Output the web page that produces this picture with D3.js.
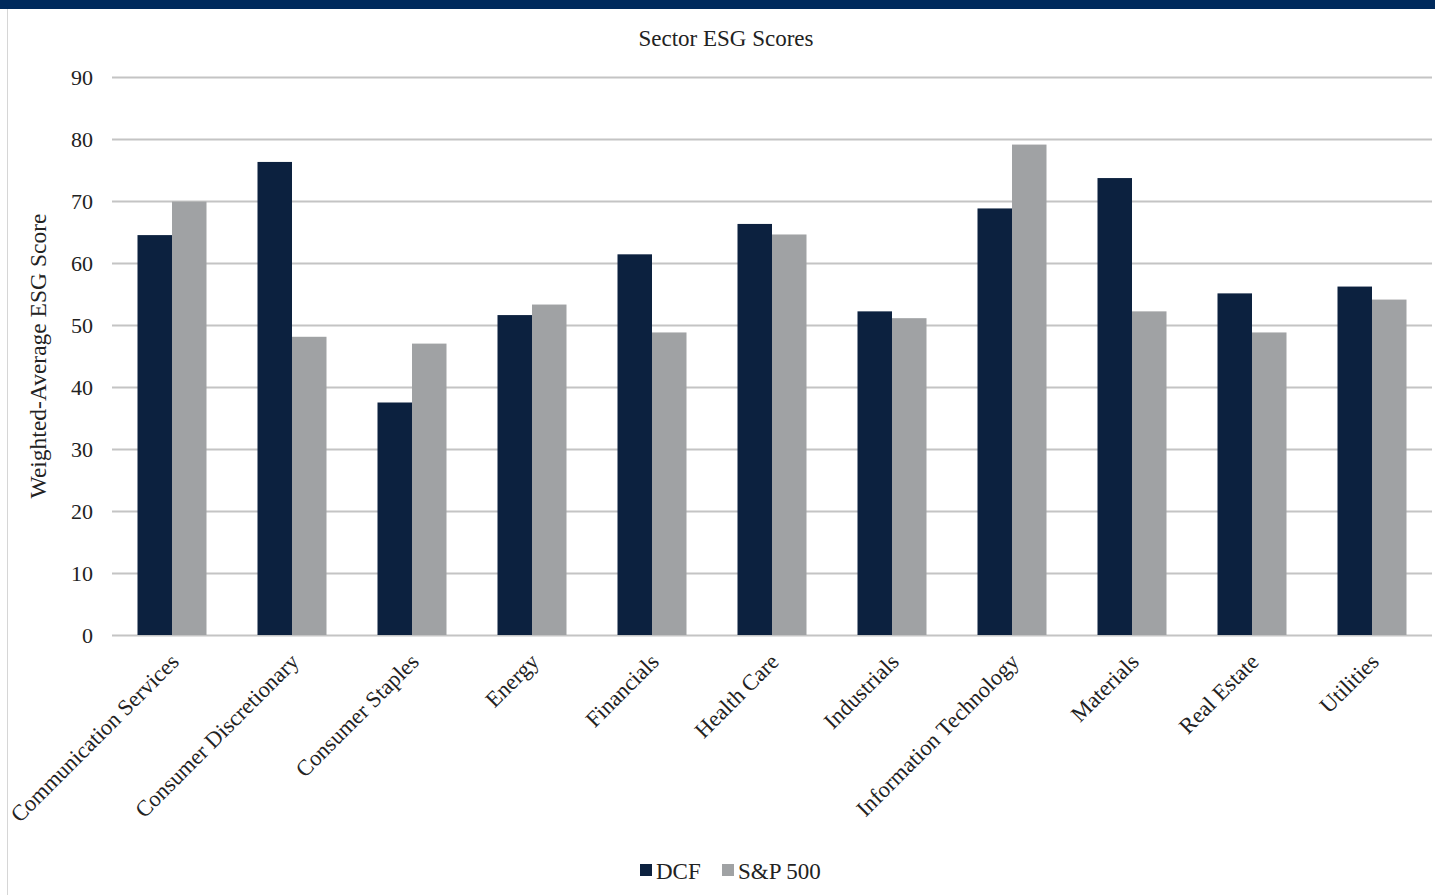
<!DOCTYPE html>
<html>
<head>
<meta charset="utf-8">
<script src="https://cdn.jsdelivr.net/npm/d3@7"></script>
<style>
  body { margin: 0; background: #fff; }
  text { font-family: "Liberation Serif", "DejaVu Serif", serif; fill: #222; }
</style>
</head>
<body>
<div id="drawing"></div>
<script>
const width = 1435;
const height = 895;

// data
const sectors = ["Communication Services", "Consumer Discretionary", "Consumer Staples", "Energy",
  "Financials", "Health Care", "Industrials", "Information Technology", "Materials", "Real Estate", "Utilities"];
const dcf = [64.5, 76.3, 37.5, 51.6, 61.4, 66.3, 52.2, 68.8, 73.7, 55.1, 56.2];
const sp500 = [69.9, 48.1, 47.0, 53.3, 48.8, 64.6, 51.1, 79.1, 52.2, 48.8, 54.1];
const seriesNames = ["DCF", "S&P 500"];
const yTicks = [0, 10, 20, 30, 40, 50, 60, 70, 80, 90];
const colors = ["#0c213f", "#a0a2a4"];

const plot = {left: 112, right: 1432, top: 77, bottom: 635};

const svg = d3.select("#drawing").append("svg")
  .attr("width", width)
  .attr("height", height);

// navy band on top and the thin frame line on the left
svg.append("rect").attr("x", 0).attr("y", 0).attr("width", width).attr("height", 9).attr("fill", "#002a5c");
svg.append("line").attr("x1", 7.5).attr("x2", 7.5).attr("y1", 9).attr("y2", height)
  .attr("stroke", "#d6d6d6").attr("stroke-width", 1);

const x0 = d3.scaleBand().domain(sectors).range([plot.left, plot.right])
  .paddingInner(0.425).paddingOuter(0.2125);
const x1 = d3.scaleBand().domain(seriesNames).range([0, x0.bandwidth()]);
const y = d3.scaleLinear().domain([0, 90]).range([plot.bottom, plot.top]);

// gridlines + y labels
const yAxis = svg.append("g")
  .attr("transform", `translate(${plot.left},0)`)
  .call(d3.axisLeft(y).tickValues(yTicks).tickSize(-(plot.right - plot.left)).tickPadding(19));
yAxis.select(".domain").remove();
yAxis.selectAll(".tick line").attr("stroke", "#c4c4c4").attr("stroke-width", 2);
yAxis.selectAll(".tick text").attr("font-size", 22).attr("font-family", "Liberation Serif").attr("fill", "#222");

// bars
const rows = sectors.map((s, i) => ({sector: s, values: [dcf[i], sp500[i]]}));
const groups = svg.selectAll(".group")
  .data(rows)
  .enter()
  .append("g")
    .attr("class", "group")
    .attr("transform", (d) => `translate(${x0(d.sector)},0)`);

groups.selectAll("rect")
  .data((d) => d.values.map((v, k) => ({name: seriesNames[k], value: v, k: k})))
  .enter()
  .append("rect")
    .attr("x", (d) => x1(d.name))
    .attr("y", (d) => y(d.value))
    .attr("width", x1.bandwidth())
    .attr("height", (d) => y(0) - y(d.value))
    .attr("fill", (d) => colors[d.k]);

// category labels, rotated
svg.selectAll(".catLabel")
  .data(sectors)
  .enter()
  .append("text")
    .attr("class", "catLabel")
    .attr("text-anchor", "end")
    .attr("font-size", 22.5)
    .attr("transform", (d) => `translate(${x0(d) + x0.bandwidth() / 2 - 3},652) rotate(-45)`)
    .attr("dy", "0.7em")
    .text((d) => d);

// title
svg.append("text")
  .attr("x", 726).attr("y", 46)
  .attr("text-anchor", "middle")
  .attr("font-size", 23)
  .text("Sector ESG Scores");

// y axis title
svg.append("text")
  .attr("transform", "translate(46,356) rotate(-90)")
  .attr("text-anchor", "middle")
  .attr("font-size", 23.5)
  .text("Weighted-Average ESG Score");

// legend
const legend = svg.append("g").attr("transform", "translate(640,0)");
const legendX = [0, 82];
seriesNames.forEach((name, k) => {
  legend.append("rect")
    .attr("x", legendX[k]).attr("y", 864)
    .attr("width", 12).attr("height", 12)
    .attr("fill", colors[k]);
  legend.append("text")
    .attr("x", legendX[k] + 16).attr("y", 879)
    .attr("font-size", 23)
    .text(name);
});
</script>
</body>
</html>
